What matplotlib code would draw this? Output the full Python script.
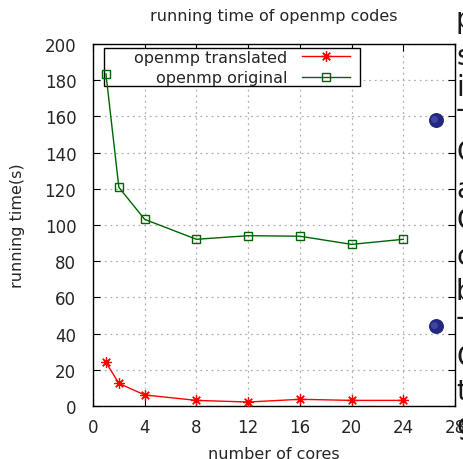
import matplotlib
matplotlib.use("Agg")
import matplotlib.pyplot as plt
import matplotlib.transforms as mtransforms
from matplotlib.patches import Rectangle

cores = [1, 2, 4, 8, 12, 16, 20, 24]
translated = [24.1, 12.5, 6.1, 3.1, 2.2, 3.7, 3.1, 3.1]
original = [183.5, 120.8, 103.1, 92.1, 94.1, 93.8, 89.3, 92.1]
sphere_x = [26.5, 26.5]
sphere_y = [158, 44]
xticks = [0, 4, 8, 12, 16, 20, 24, 28]
yticks = list(range(0, 201, 20))
side_letters = ["p", "s", "i", "-", "C", "a", "C", "c", "b", "-", "C", "t", "g"]
side_y_px = [20, 57, 88, 110, 153, 190, 221, 257, 292, 318, 358, 392, 426]

TXT = "#262626"
W, H = 463, 460
AX_L, AX_R, AX_T, AX_B = 93, 455, 45, 407
AW, AH = AX_R - AX_L, AX_B - AX_T
fig = plt.figure(figsize=(W / 100, H / 100), dpi=100)
ax = fig.add_axes([AX_L / W, 1 - AX_B / H, AW / W, AH / H])


def ax_x(px):
    return (px - AX_L) / AW


def ax_y(py):
    return (AX_B - py) / AH


ax.plot(cores, translated, color="red", lw=1, marker=(8, 2, 0), ms=7.5,
        mew=0.9, label="openmp translated", zorder=3)
ax.plot(cores, original, color="#006400", lw=1, marker="s", ms=5.5,
        mfc="none", mew=1, label="openmp original", zorder=3)

ax.scatter(sphere_x, sphere_y, s=95, color="#23287f", zorder=5, clip_on=False)
off = mtransforms.ScaledTranslation(-1.2 / 100, 1.2 / 100, fig.dpi_scale_trans)
ax.scatter(sphere_x, sphere_y, s=25, color="#4a52b4", zorder=6, clip_on=False,
           transform=ax.transData + off, alpha=0.7, linewidths=0)

ax.set_xlim(0, 28)
ax.set_ylim(0, 200)
ax.set_xticks(xticks)
ax.set_yticks(yticks)
ax.grid(True, color="#b0b0b0", linestyle=(0, (1.5, 3)), lw=0.9)
ax.tick_params(direction="in", top=True, right=True, length=5, labelsize=12,
               labelcolor=TXT, pad=9)
ax.tick_params(axis="y", pad=12)
for s in ax.spines.values():
    s.set_linewidth(1)
    s.set_color("black")

ax.set_title("running time of openmp codes", fontsize=11.5, color=TXT, pad=17)
ax.set_xlabel("number of cores", fontsize=11.5, color=TXT, labelpad=7)
ax.set_ylabel("running time(s)", fontsize=11.5, color=TXT, labelpad=14)

# legend frame (gnuplot-style box): above grid, below data lines
ax.add_patch(Rectangle((ax_x(104), ax_y(87)), ax_x(360) - ax_x(104),
                       ax_y(49) - ax_y(87), transform=ax.transAxes,
                       facecolor="white", edgecolor="black", lw=1, zorder=2))
leg = ax.legend(loc="upper right", bbox_to_anchor=(ax_x(350), ax_y(51)),
                markerfirst=False, fontsize=11.5, frameon=False,
                borderaxespad=0, handlelength=3.0, borderpad=0,
                labelspacing=0.33, handletextpad=0.9, labelcolor=TXT)
leg.set_zorder(6)

for ch, ypx in zip(side_letters, side_y_px):
    fig.text(456 / W, 1 - ypx / H, ch, fontsize=20, color="#1a1a1a",
             ha="left", va="center")

fig.savefig("out.png", dpi=100)
